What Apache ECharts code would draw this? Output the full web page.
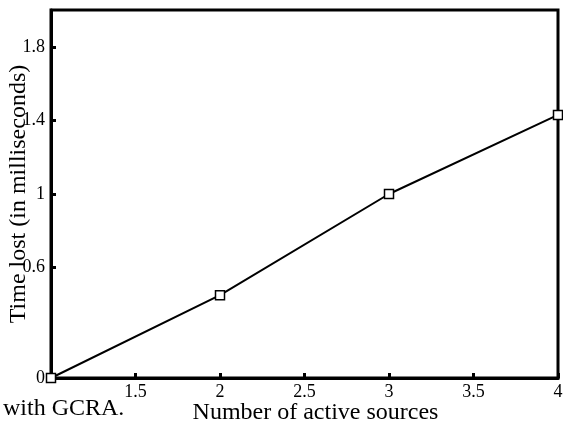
<!DOCTYPE html>
<html>
<head>
<meta charset="utf-8">
<script src="https://cdn.jsdelivr.net/npm/echarts@6/dist/echarts.min.js"></script>
<style>
  html, body { margin: 0; padding: 0; background: #fff; }
  #chart { width: 563px; height: 424px; }
</style>
</head>
<body>
<div id="chart"></div>
<script>
// values
const sources = [1, 2, 3, 4]
const timeLost = [0, 0.45, 1.0, 1.43]
const yTicks = [0, 0.6, 1, 1.4, 1.8]

const font = '"Liberation Serif", "DejaVu Serif", serif'

let myChart = echarts.init(document.getElementById('chart'))
myChart.setOption({
  animation: false,
  backgroundColor: '#fff',
  grid: {
    left: 51,
    right: 5,
    top: 10,
    bottom: 46,
    outerBoundsMode: 'none',
    containLabel: false,
    show: true,
    borderColor: '#000',
    borderWidth: 3
  },
  xAxis: {
    type: 'value',
    min: 1,
    max: 4,
    interval: 0.5,
    name: 'Number of active sources',
    nameLocation: 'middle',
    nameGap: 23,
    nameMoveOverlap: false,
    nameTextStyle: { fontFamily: font, fontSize: 24, color: '#000', verticalAlign: 'top', padding: [0, 0, 0, 22] },
    axisLine: { lineStyle: { color: '#000', width: 3 } },
    axisTick: { inside: true, length: 5, lineStyle: { color: '#000', width: 3 } },
    axisLabel: {
      showMinLabel: false,
      margin: 5,
      fontFamily: font,
      fontSize: 18,
      color: '#000'
    },
    splitLine: { show: false }
  },
  yAxis: {
    type: 'value',
    min: 0,
    max: 2,
    name: 'Time lost (in milliseconds)',
    nameLocation: 'middle',
    nameRotate: 90,
    nameGap: 20,
    nameMoveOverlap: false,
    nameTextStyle: { fontFamily: font, fontSize: 24, color: '#000' },
    axisLine: { lineStyle: { color: '#000', width: 3 } },
    axisTick: { inside: true, length: 5, customValues: yTicks, lineStyle: { color: '#000', width: 3 } },
    axisLabel: {
      customValues: yTicks,
      margin: 6,
      fontFamily: font,
      fontSize: 18,
      color: '#000'
    },
    splitLine: { show: false }
  },
  series: [{
    type: 'line',
    data: sources.map((s, i) => [s, timeLost[i]]),
    symbol: 'rect',
    symbolSize: 9,
    showAllSymbol: true,
    itemStyle: { color: '#fff', borderColor: '#000', borderWidth: 1.5 },
    lineStyle: { color: '#000', width: 2 },
    clip: false
  }],
  graphic: [{
    type: 'text',
    left: 3,
    top: 397,
    style: { text: 'with GCRA.', font: '24px ' + font, fill: '#000' }
  }]
})
</script>
</body>
</html>
